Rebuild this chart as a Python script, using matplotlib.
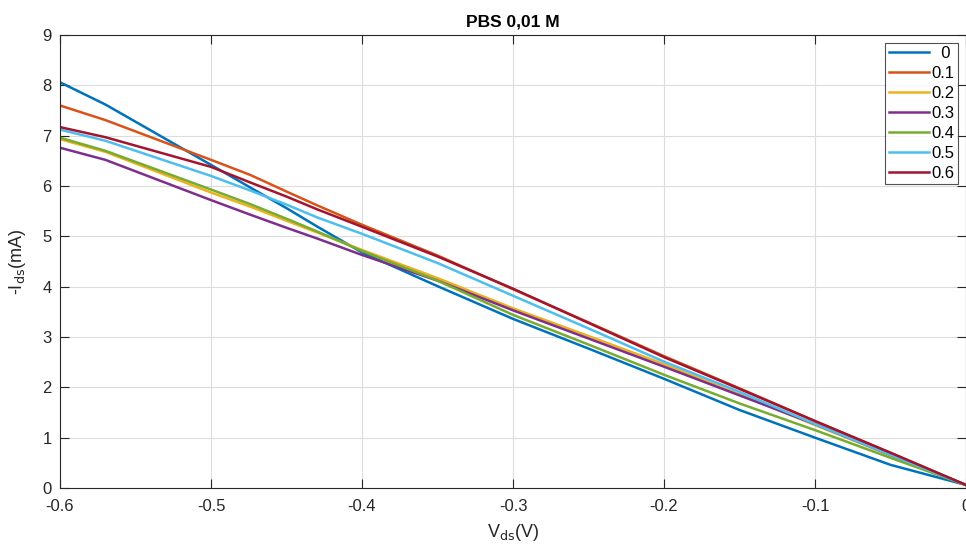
import matplotlib
matplotlib.use("Agg")
import matplotlib.pyplot as plt

plt.rcParams['font.family'] = ['Liberation Sans', 'DejaVu Sans']

vds = [-0.6, -0.57, -0.5, -0.474, -0.45, -0.43, -0.4, -0.35, -0.3, -0.25, -0.2, -0.15, -0.1, -0.05, 0.0]

labels = ['  0', '0.1', '0.2', '0.3', '0.4', '0.5', '0.6']
ids_0 = [8.06, 7.62, 6.42, 5.97, 5.56, 5.20, 4.68, 4.01, 3.36, 2.77, 2.17, 1.55, 1.00, 0.46, 0.06]
ids_1 = [7.60, 7.31, 6.52, 6.22, 5.89, 5.62, 5.23, 4.62, 3.95, 3.29, 2.62, 1.98, 1.33, 0.70, 0.06]
ids_2 = [6.93, 6.68, 5.87, 5.59, 5.31, 5.08, 4.73, 4.17, 3.57, 3.02, 2.46, 1.86, 1.25, 0.65, 0.06]
ids_3 = [6.76, 6.52, 5.72, 5.43, 5.17, 4.96, 4.63, 4.12, 3.53, 2.97, 2.41, 1.84, 1.27, 0.66, 0.06]
ids_4 = [6.96, 6.70, 5.93, 5.64, 5.35, 5.10, 4.71, 4.12, 3.44, 2.85, 2.25, 1.68, 1.15, 0.60, 0.06]
ids_5 = [7.12, 6.90, 6.20, 5.91, 5.63, 5.38, 5.05, 4.47, 3.82, 3.17, 2.51, 1.91, 1.27, 0.66, 0.06]
ids_6 = [7.17, 6.97, 6.38, 6.07, 5.79, 5.54, 5.19, 4.60, 3.96, 3.28, 2.60, 1.97, 1.33, 0.70, 0.06]

series = [ids_0, ids_1, ids_2, ids_3, ids_4, ids_5, ids_6]
colors = ['#0072BD', '#D95319', '#EDB120', '#7E2F8E', '#77AC30', '#4DBEEE', '#A2142F']

fig = plt.figure(figsize=(9.66, 5.44), dpi=100)
ax = fig.add_axes([60/966, 56/544, 906/966, 453/544])

for ys, c, lab in zip(series, colors, labels):
    ax.plot(vds, ys, color=c, lw=1.8, label=lab)

ax.set_xlim(-0.6, 0)
ax.set_ylim(0, 9)
ax.set_xticks([-0.6, -0.5, -0.4, -0.3, -0.2, -0.1, 0])
ax.set_xticklabels(['-0.6', '-0.5', '-0.4', '-0.3', '-0.2', '-0.1', '0'])
ax.set_yticks(range(0, 10))
ax.grid(True, color='#DCDCDC', lw=0.8)
ax.set_axisbelow(True)
ax.tick_params(direction='in', length=6.5, width=0.8, colors='#262626',
               labelsize=12, top=True, right=True)
ax.tick_params(axis='x', pad=8)
ax.tick_params(axis='y', pad=6)
for s in ax.spines.values():
    s.set_color('#262626')
    s.set_linewidth(0.8)

ax.set_title('PBS 0,01 M', fontsize=12.5, fontweight='bold', color='#000000', pad=6)
ax.set_xlabel(r'V$_{\mathrm{ds}}$(V)', fontsize=13, color='#262626', labelpad=6)
ax.set_ylabel(r'-I$_{\mathrm{ds}}$(mA)', fontsize=13, color='#262626', labelpad=10)

leg = ax.legend(loc='upper right', bbox_to_anchor=(0.9915, 0.983), fontsize=12,
                frameon=True, fancybox=False, edgecolor='#262626',
                handlelength=2.4, handletextpad=0.2, borderpad=0.2,
                labelspacing=0.3, borderaxespad=0.0)
leg.get_frame().set_linewidth(0.8)

fig.savefig('out.png', dpi=100)
